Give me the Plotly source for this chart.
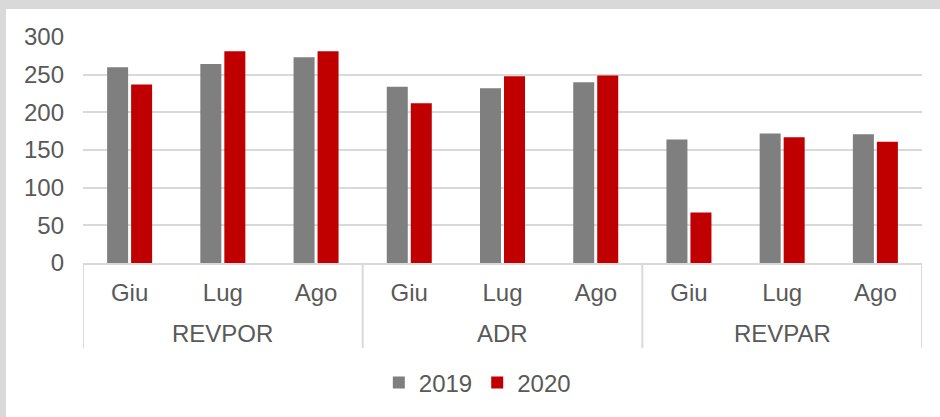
################################
# plot.py
################################

import plotly.graph_objects as go

################################
# Data
################################

groups = ["REVPOR", "ADR", "REVPAR"]
months = ["Giu", "Lug", "Ago"]

values_2019 = [260, 264, 273, 234, 232, 240, 164, 172, 171]
values_2020 = [237, 281, 281, 212, 248, 249, 67, 167, 161]

y_ticks = [0, 50, 100, 150, 200, 250, 300]

################################
# Figure
################################

text_color = "#595959"
grid_color = "#d9d9d9"
font_family = "Liberation Sans, Arial, sans-serif"
font_size = 24

# one slot per (group, month) pair along the x axis
x_pos = list(range(len(groups) * len(months)))
x_labels = [m for g in groups for m in months]

fig = go.Figure()

fig.add_trace(go.Bar(
    x=x_pos,
    y=values_2019,
    name="2019",
    marker=dict(color="#7f7f7f", line=dict(width=0)),
))

fig.add_trace(go.Bar(
    x=x_pos,
    y=values_2020,
    name="2020",
    marker=dict(color="#c00000", line=dict(width=0)),
))

# group labels under the month labels, and dividers between groups
annotations = []
shapes = [
    # white chart panel inside the grey frame
    dict(
        type="rect", xref="paper", yref="paper",
        x0=-0.0918, x1=1.03, y0=-0.8, y1=1.124,
        fillcolor="white", line=dict(width=0), layer="below",
    )
]
n = len(months)
for i, g in enumerate(groups):
    annotations.append(dict(
        x=i * n + (n - 1) / 2, xref="x",
        y=-0.314, yref="paper",
        text=g, showarrow=False,
        xanchor="center", yanchor="middle",
        font=dict(size=font_size, color=text_color),
    ))
for i in range(len(groups) + 1):
    shapes.append(dict(
        type="line", xref="x", yref="paper",
        x0=i * n - 0.5, x1=i * n - 0.5, y0=0, y1=-0.376,
        line=dict(color=grid_color, width=2),
    ))

# plot area: x 83..922, y 37..263 (pixels)
fig.update_layout(
    width=940,
    height=417,
    margin=dict(l=83, r=18, t=37, b=154, autoexpand=False),
    paper_bgcolor="#d9d9d9",
    plot_bgcolor="white",
    font=dict(family=font_family, size=font_size, color=text_color),
    barmode="group",
    bargap=0.485,
    bargroupgap=0.125,
    showlegend=True,
    legend=dict(
        orientation="h",
        x=0.47,
        xanchor="center",
        y=-0.531,
        yanchor="middle",
        font=dict(size=font_size, color=text_color),
        bgcolor="rgba(0,0,0,0)",
    ),
    annotations=annotations,
    shapes=shapes,
)

fig.update_yaxes(
    range=[0, 300],
    tickvals=y_ticks,
    showgrid=True,
    gridcolor=grid_color,
    gridwidth=1.8,
    zeroline=False,
    showline=False,
    ticks="",
    ticklabelstandoff=18,
    tickfont=dict(size=font_size, color=text_color),
)

fig.update_xaxes(
    range=[-0.5, len(x_pos) - 0.5],
    tickvals=x_pos,
    ticktext=x_labels,
    showgrid=False,
    zeroline=False,
    showline=True,
    linecolor=grid_color,
    linewidth=2,
    ticks="",
    ticklabelstandoff=7,
    tickfont=dict(size=font_size, color=text_color),
)

# drop the default page margin so the figure sits at the window's corner
fig.write_html(
    "out.html",
    config={"displayModeBar": False},
    post_script="document.body.style.margin='0';",
)
